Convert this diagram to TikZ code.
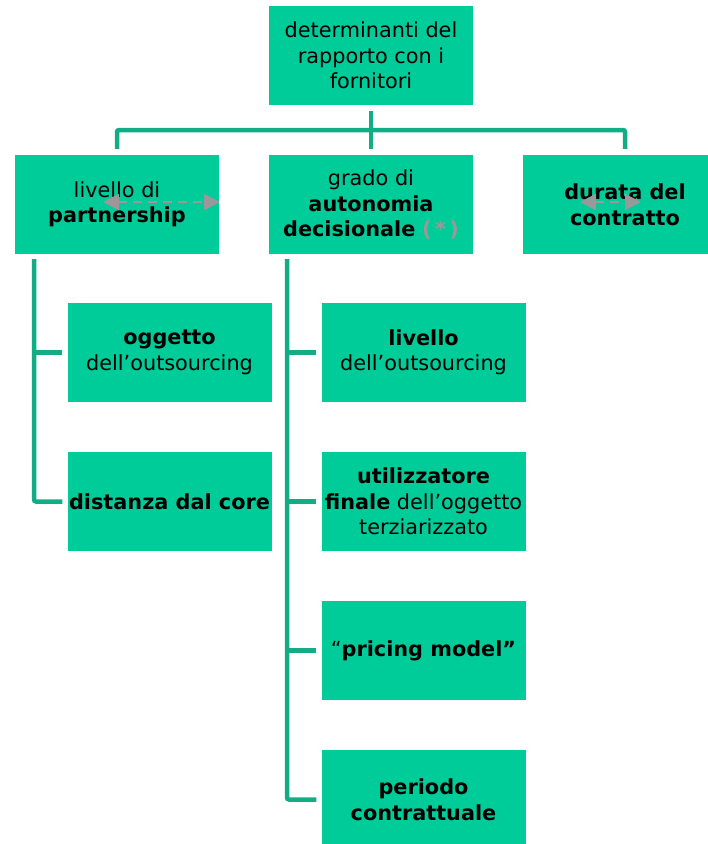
\documentclass[tikz,border=0pt]{standalone}
\usepackage{fontspec}
\setmainfont{DejaVu Sans}
\usetikzlibrary{arrows.meta}
\definecolor{boxgreen}{HTML}{00CC99}
\definecolor{linegreen}{HTML}{12AD85}
\definecolor{arrowgray}{HTML}{999999}
\begin{document}
\begin{tikzpicture}[x=1pt,y=-1pt,
  box/.style={fill=boxgreen, draw=none, minimum width=204pt, minimum height=99pt,
    align=center, inner sep=0pt, font=\fontsize{20.8}{25.5}\selectfont},
  link/.style={draw=linegreen, line width=4.5pt, rounded corners=2pt},
  dasharrow/.style={draw=arrowgray, line width=2.5pt, dash pattern=on 9pt off 6pt,
    {Triangle[length=16pt,width=16pt]}-{Triangle[length=16pt,width=16pt]}}]
\useasboundingbox (0,0) rectangle (708,844);
\clip (0,0) rectangle (708,844);

% boxes
\node[box] (top) at (371,55.5) {determinanti del\\rapporto con i\\fornitori};
\node[box] (partner) at (117,204.5) {livello di\\\textbf{partnership}};
\node[box] (autonomia) at (371,204.5) {grado di\\\textbf{autonomia}\\\textbf{decisionale} \textcolor{arrowgray}{\textbf{(\,*\,)}}};
\node[box] (durata) at (625,204.5) {\textbf{durata del}\\\textbf{contratto}};
\node[box] (oggetto) at (169.5,352.5) {\textbf{oggetto}\\dell’outsourcing};
\node[box] (distanza) at (169.5,501.5) {\textbf{distanza dal core}};
\node[box] (livello) at (423.5,352.5) {\textbf{livello}\\dell’outsourcing};
\node[box] (utente) at (423.5,501.5) {\textbf{utilizzatore}\\\textbf{finale} dell’oggetto\\terziarizzato};
\node[box] (pricing) at (423.5,650.5) {“\textbf{pricing model”}};
\node[box] (periodo) at (423.5,799.5) {\textbf{periodo}\\\textbf{contrattuale}};

% top level connectors
\coordinate (bus) at (371,130);
\draw[link] ([yshift=-6pt]top.south) -- ([yshift=6pt]autonomia.north);
\draw[link] ([yshift=6pt]partner.north) |- (bus) -| ([yshift=6pt]durata.north);

% left branch
\coordinate (lspine) at (34,259);
\draw[link] (lspine) |- ([xshift=-5pt]distanza.west);
\draw[link] (lspine |- oggetto.west) -- ([xshift=-5pt]oggetto.west);

% middle branch
\coordinate (mspine) at (287,259);
\draw[link] (mspine) |- ([xshift=-5pt]periodo.west);
\draw[link] (mspine |- livello.west) -- ([xshift=-5pt]livello.west);
\draw[link] (mspine |- utente.west) -- ([xshift=-5pt]utente.west);
\draw[link] (mspine |- pricing.west) -- ([xshift=-5pt]pricing.west);

% dashed double arrows
\coordinate (pa1) at (103,202);
\coordinate (pa2) at (220,202);
\draw[dasharrow] (pa1) -- (pa2);
\coordinate (da1) at (580,202);
\coordinate (da2) at (641,202);
\draw[dasharrow] (da1) -- (da2);
\end{tikzpicture}
\end{document}
